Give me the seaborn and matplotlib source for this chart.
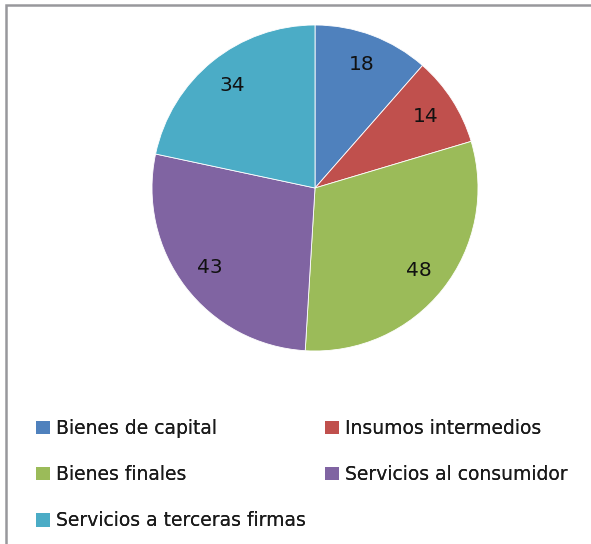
import numpy as np
import seaborn as sns
import matplotlib.pyplot as plt
from matplotlib.patches import Patch, Rectangle

# data
categorias = ['Bienes de capital', 'Insumos intermedios', 'Bienes finales',
              'Servicios al consumidor', 'Servicios a terceras firmas']
valores = [18, 14, 48, 43, 34]
colores = ['#4F81BD', '#C0504D', '#9BBB59', '#8064A2', '#4BACC6']

sns.set_style('white')
plt.rcParams['font.family'] = ['DejaVu Sans']
palette = sns.color_palette(colores)

W, H = 591, 544
fig = plt.figure(figsize=(W / 100, H / 100), dpi=100)

# pie centered at (315, 188), radius 163 px
cx, cy, r = 315, 188, 163
ax = fig.add_axes([(cx - r) / W, 1 - (cy + r) / H, 2 * r / W, 2 * r / H])
wedges, texts = ax.pie(valores, colors=palette, startangle=90, counterclock=False,
                       labels=[str(v) for v in valores], labeldistance=0.81,
                       wedgeprops=dict(edgecolor='white', linewidth=0.6),
                       textprops=dict(fontsize=14.5, color='#111111',
                                      ha='center', va='center'))
for t in texts:
    t.set_horizontalalignment('center')
ax.set_xlim(-1, 1)
ax.set_ylim(-1, 1)
ax.set_aspect('equal')
ax.axis('off')

# legend: two columns, row-major order like the original
handles = [Patch(facecolor=c, edgecolor='none') for c in palette]
leg_kw = dict(loc='upper left', frameon=False, fontsize=13.5, labelcolor='#1a1a1a',
              handlelength=0.75, handleheight=0.72, handletextpad=0.3,
              labelspacing=1.45, borderaxespad=0, borderpad=0)
for idx, x0 in [([0, 2, 4], 36), ([1, 3], 325)]:
    leg = fig.legend([handles[i] for i in idx], [categorias[i] for i in idx],
                     bbox_to_anchor=(x0 / W, 1 - 419 / H), **leg_kw)
    fig.add_artist(leg)

# outer frame (top and left edges visible)
fig.add_artist(Rectangle((6 / W, -0.1), 1.2, 1.1 - 5 / H, transform=fig.transFigure,
                         fill=False, edgecolor='#98989c', linewidth=1.8))

fig.savefig('out.png', dpi=100, facecolor='white')
